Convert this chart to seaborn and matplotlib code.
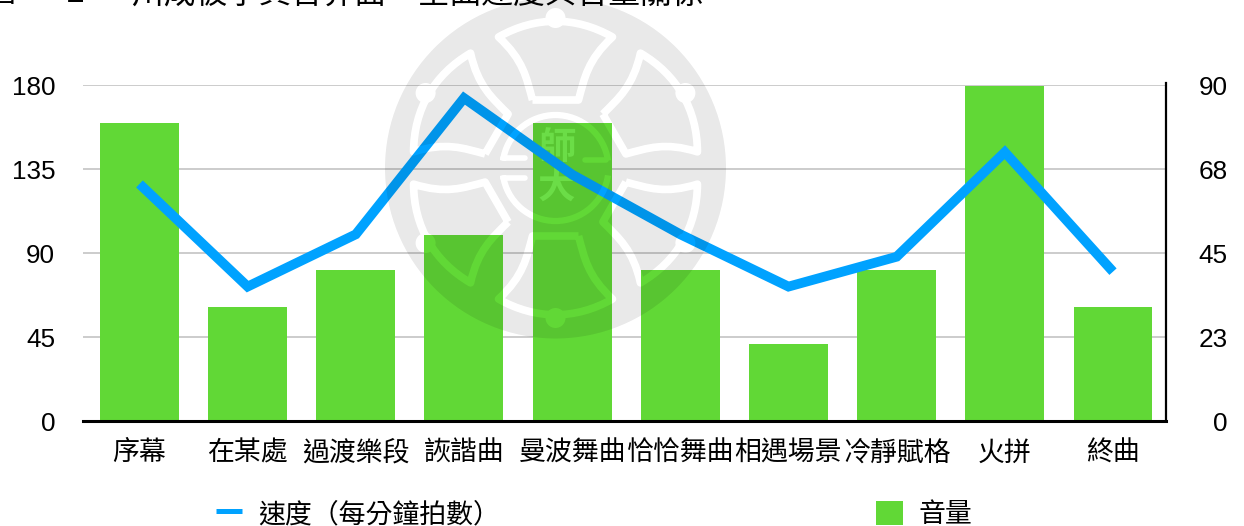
import numpy as np
import pandas as pd
import matplotlib
matplotlib.use("Agg")
import matplotlib.pyplot as plt
import seaborn as sns
from matplotlib.figure import Figure
from matplotlib.backends.backend_agg import FigureCanvasAgg
from matplotlib.patches import Circle, Patch, PathPatch, Arc
from matplotlib.path import Path
from matplotlib.lines import Line2D
from matplotlib.transforms import Affine2D, ScaledTranslation

sections = ["序幕", "在某處", "過渡樂段", "詼諧曲", "曼波舞曲", "恰恰舞曲", "相遇場景", "冷靜賦格", "火拼", "終曲"]
volume = [159.5, 61, 81, 99.5, 159.5, 81, 41, 81, 179.5, 61]
tempo = [63.5, 36, 50, 86.5, 66, 50, 36, 44, 72, 40]
left_ticks = [0, 45, 90, 135, 180]
right_ticks = [0, 22.5, 45, 67.5, 90]
right_labels = ["0", "23", "45", "68", "90"]
title_parts = ["圖", "2", "川成被字員音界面\u3000全曲速度與音量關係"]
legend_labels = ["速度（每分鐘拍數）", "音量"]

GREEN = "#61D836"
BLUE = "#00A2FF"
W, H = 1244, 526

sns.set_theme(style="white")
plt.rcParams["font.family"] = ["Liberation Sans", "Noto Sans CJK TC", "DejaVu Sans"]

fig = plt.figure(figsize=(W / 100, H / 100), dpi=100, facecolor="white")
ax = fig.add_axes([83 / W, (H - 421) / H, 1083 / W, 336 / H])

df = pd.DataFrame({"section": sections, "volume": volume, "tempo": tempo})
ax.set_axisbelow(True)
sns.barplot(data=df, x="section", y="volume", color=GREEN, saturation=1, width=0.73, ax=ax,
            zorder=2, linewidth=0)
ax.set_xlim(-0.522, 9.49)
ax.set_ylim(0, 180)
ax.set_xlabel("")
ax.set_ylabel("")
ax.set_yticks(left_ticks)
ax.grid(axis="y", color="#C4C4C4", lw=1.2)
ax.grid(axis="x", visible=False)
ax.tick_params(axis="y", length=0, pad=20, labelsize=18.8, labelcolor="black")
ax.tick_params(axis="x", length=0, pad=14, labelsize=19.4, labelcolor="black")
for s in ["left", "top", "right"]:
    ax.spines[s].set_visible(False)
ax.spines["bottom"].set_color("black")
ax.spines["bottom"].set_linewidth(2.2)

ax2 = ax.twinx()
sns.lineplot(x=np.arange(len(tempo)), y=tempo, color=BLUE, lw=7, ax=ax2, sort=False,
             solid_joinstyle="miter", solid_capstyle="butt", zorder=5)
ax2.set_ylim(0, 90)
ax2.set_yticks(right_ticks)
ax2.set_yticklabels(right_labels, ha="right")
ax2.grid(False)
ax2.tick_params(axis="y", length=0, pad=44.6, labelsize=18.8, labelcolor="black")
for s in ["left", "top", "bottom"]:
    ax2.spines[s].set_visible(False)
ax2.spines["right"].set_color("black")
ax2.spines["right"].set_linewidth(1.6)
ax2.spines["right"].set_bounds(0, 90.6)
ax2.set_ylabel("")

nudge = ScaledTranslation(0, -0.5 / 72, fig.dpi_scale_trans)
for a in (ax, ax2):
    for lab in a.get_yticklabels():
        lab.set_transform(lab.get_transform() + nudge)

# seal glyphs of the watermark, sitting on the central bar
seal_x = 4 - 15.5 / 108.17
ax.text(seal_x, 180 * (421 - 148) / 336, "師", fontsize=27, color="#76F24E", fontweight="bold",
        ha="center", va="center", zorder=3, family=["Noto Sans CJK TC"])
ax.text(seal_x, 180 * (421 - 187) / 336, "大", fontsize=27, color="#76F24E", fontweight="bold",
        ha="center", va="center", zorder=3, family=["Noto Sans CJK TC"])

# title, cut off by the top of the page
title_y = (H - 2.5) / H
fig.text(-16 / W, title_y, title_parts[0], fontsize=22.3, color="black", va="baseline")
fig.text(67 / W, title_y, title_parts[1], fontsize=22.3, color="black", va="baseline", fontweight="bold")
fig.text(132 / W, title_y, title_parts[2], fontsize=22.9, color="black", va="baseline")

# legend
handles = [Line2D([], [], color=BLUE, lw=3.6, solid_capstyle="butt"),
           Patch(facecolor=GREEN, edgecolor="none")]
fig.legend(handles, legend_labels, ncol=2, frameon=False, loc="center left",
           bbox_to_anchor=(215.5 / W, (H - 514.5) / H), fontsize=19.4, handlelength=1.0, handleheight=1.0,
           handletextpad=0.58, columnspacing=13.96, borderpad=0, borderaxespad=0, labelcolor="black")

# watermark: a translucent disc with six bell outlines knocked out
cx, cy, R = 555.5, H - 168, 170.5
mf = Figure(figsize=(W / 100, H / 100), dpi=100, facecolor="white")
mc = FigureCanvasAgg(mf)
ma = mf.add_axes([0, 0, 1, 1])
ma.set_xlim(0, W)
ma.set_ylim(0, H)
ma.axis("off")
ma.add_patch(Circle((cx, cy), R, fc="black", ec="none"))
verts = [(-23, 68), (-29, 90), (-32, 108), (-57, 131),
         (-20, 152), (20, 152), (57, 131),
         (32, 108), (29, 90), (23, 68), (-23, 68)]
codes = [Path.MOVETO, Path.CURVE4, Path.CURVE4, Path.CURVE4,
         Path.CURVE4, Path.CURVE4, Path.CURVE4,
         Path.CURVE4, Path.CURVE4, Path.CURVE4, Path.LINETO]
bell = Path(verts, codes)
for k in range(6):
    rot = Affine2D().rotate_deg(60 * k).translate(cx, cy)
    ma.add_patch(PathPatch(bell.transformed(rot), fc="none", ec="white", lw=5.5, joinstyle="round"))
    kx, ky = rot.transform((0, 150))
    ma.add_patch(Circle((kx, ky), 10, fc="white", ec="none"))
ma.add_patch(Arc((cx, cy), 106, 106, theta1=8, theta2=172, ec="white", lw=4.5))
ma.add_patch(Arc((cx, cy), 106, 106, theta1=188, theta2=352, ec="white", lw=4.5))
for x0, x1, dy in [(503, 525, 10), (503, 525, -10), (585, 606, 8)]:
    ma.plot([x0, x1], [cy + dy, cy + dy], color="white", lw=4)
mc.draw()
rgba = np.asarray(mc.buffer_rgba()).astype(float)
cover = 1 - rgba[..., 0] / 255
wm = np.zeros((H, W, 4))
wm[..., 3] = cover * 0.09
fig.figimage(wm, xo=0, yo=0, origin="upper", zorder=10, resize=False)

fig.savefig("out.png", dpi=100)
